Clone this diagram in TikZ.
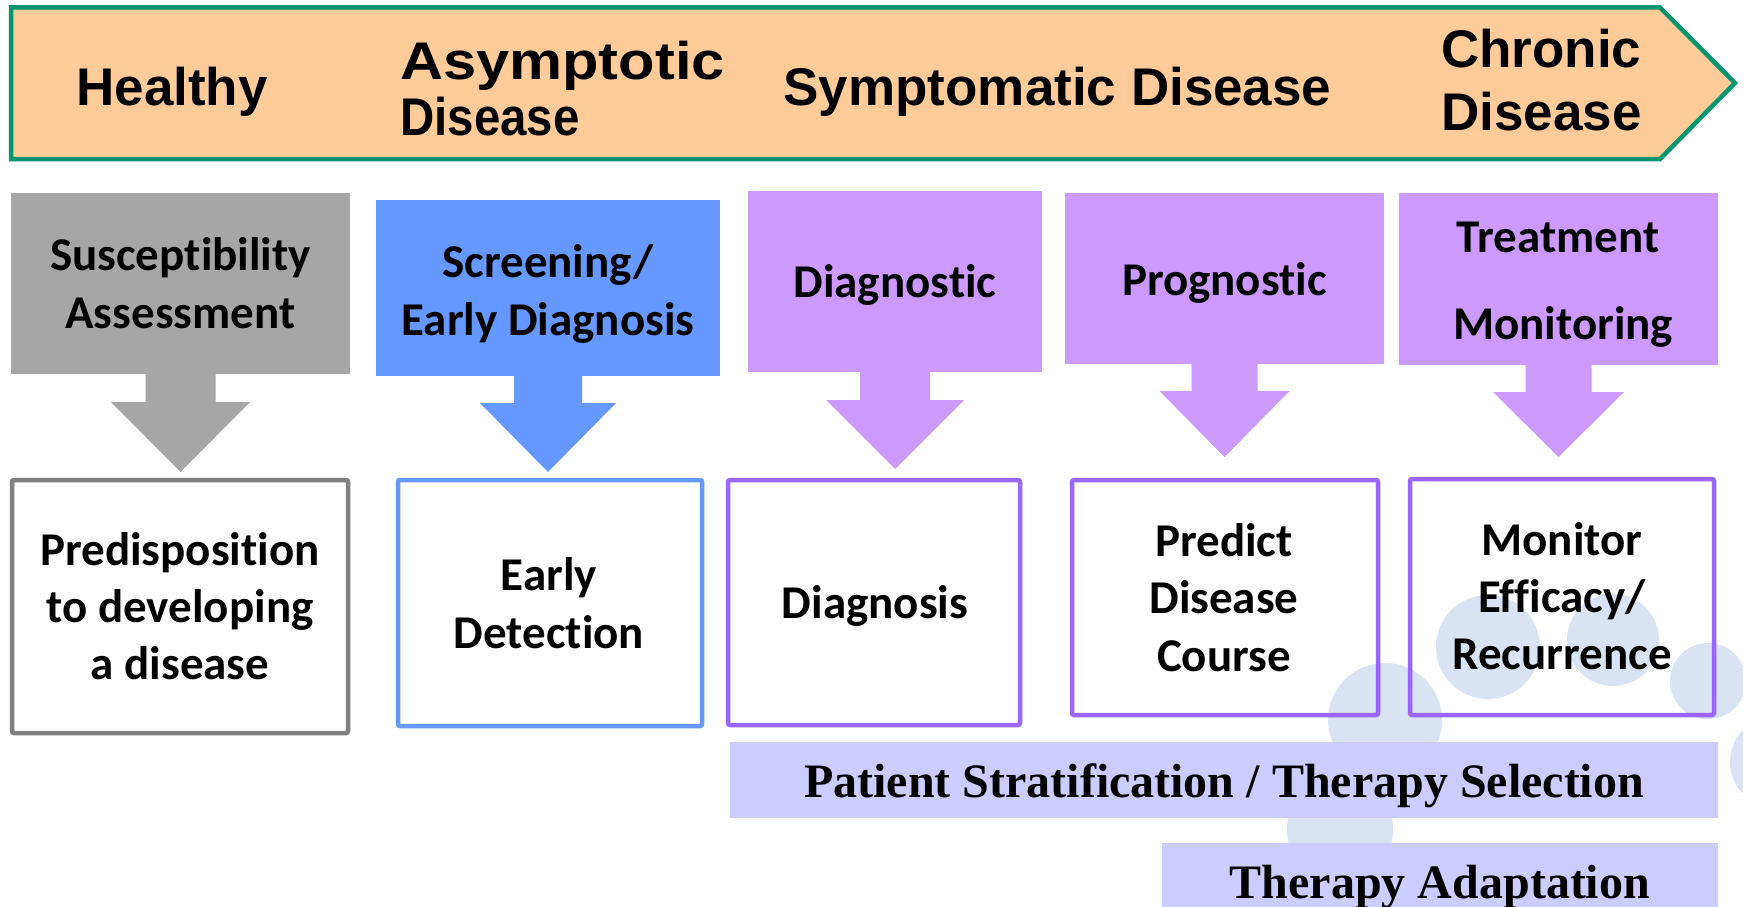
\documentclass[tikz,border=0pt]{standalone}
\usepackage{fontspec}
\usepackage{graphicx}
\usetikzlibrary{calc}
\newfontfamily\arialfont{Liberation Sans}
\newfontfamily\califont{Carlito}[Ligatures=NoCommon]
\newfontfamily\timesfont{Liberation Serif}[Ligatures=NoCommon]
\definecolor{peach}{HTML}{FFCC99}
\definecolor{greenb}{HTML}{06966F}
\definecolor{grayfill}{HTML}{A6A6A6}
\definecolor{bluefill}{HTML}{6699FF}
\definecolor{purplefill}{HTML}{CC99FF}
\definecolor{grayline}{HTML}{808080}
\definecolor{blueline}{HTML}{6699FF}
\definecolor{purpleline}{HTML}{9966FF}
\definecolor{barfill}{HTML}{CCCCFF}
\definecolor{bubblec}{HTML}{DAE3F3}
\newcommand\blockdown[6]{% node, colour, stem length, head half width, head depth, stem half width
  \fill[#2] ($(#1.south)+(-#6,-1)$) -- ($(#1.south)+(-#6,#3)$) -- ($(#1.south)+(-#4,#3)$)
    -- ($(#1.south)+(0,#3+#5)$) -- ($(#1.south)+(#4,#3)$) -- ($(#1.south)+(#6,#3)$)
    -- ($(#1.south)+(#6,-1)$) -- cycle;}
\tikzset{
  topfont/.style={font=\arialfont\bfseries\fontsize{53}{60}\selectfont, inner sep=0pt, anchor=base},
  califnt/.style={font=\califont\bfseries\fontsize{47}{57}\selectfont, inner sep=0pt, anchor=base},
  barfont/.style={font=\timesfont\bfseries\fontsize{48}{55}\selectfont, inner sep=0pt, anchor=base},
  callbox/.style={rectangle, inner sep=0pt, outer sep=0pt, draw=none},
  outbox/.style={rectangle, inner sep=0pt, outer sep=0pt, line width=4.5pt, rounded corners=2pt},
  barbox/.style={rectangle, inner sep=0pt, outer sep=0pt, fill=barfill},
  bubble/.style={fill=bubblec},
}
\begin{document}
\begin{tikzpicture}[x=1pt,y=-1pt]
\useasboundingbox (0,0) rectangle (1743,907);
\fill[white] (0,0) rectangle (1743,907);
% background bubbles
\fill[bubble] (1488,647) circle[radius=52];
\fill[bubble] (1613,640) circle[radius=46];
\fill[bubble] (1708,681) circle[radius=38];
\fill[bubble] (1385,720) circle[radius=57];
\fill[bubble] (1340,830) circle[radius=53];
\fill[bubble] (1776,762) circle[radius=46];
% top stage arrow
\draw[line width=4.5pt, draw=greenb, fill=peach] (11,7.5) -- (1660,7.5) -- (1735,83) -- (1660,159) -- (11,159) -- cycle;
\node[topfont] (healthy) at (172,105) {Healthy};
\node[topfont, anchor=base west] (asym1) at (400,79) {\scalebox{1.125}[1]{Asymptotic}};
\node[topfont, anchor=base west] (asym2) at (400,135) {\scalebox{0.895}[1]{Disease}};
\node[topfont] (sympt) at (1057.5,105) {Symptomatic Disease};
\node[topfont, anchor=base west] (chron1) at (1441,68) {Chronic};
\node[topfont, anchor=base west] (chron2) at (1441,130) {Disease};
% callouts
\node[callbox, fill=grayfill, minimum width=339pt, minimum height=181pt] (c1) at (180.5,283.5) {};
\node[callbox, fill=bluefill, minimum width=344pt, minimum height=176pt] (c2) at (548,288) {};
\node[callbox, fill=purplefill, minimum width=294pt, minimum height=181pt] (c3) at (895,281.5) {};
\node[callbox, fill=purplefill, minimum width=319pt, minimum height=171pt] (c4) at (1224.5,278.5) {};
\node[callbox, fill=purplefill, minimum width=319pt, minimum height=172pt] (c5) at (1558.5,279) {};
\blockdown{c1}{grayfill}{28}{69.5}{70}{35}
\blockdown{c2}{bluefill}{27}{68}{69}{34}
\blockdown{c3}{purplefill}{28}{69}{69}{35}
\blockdown{c4}{purplefill}{27}{65}{66}{33}
\blockdown{c5}{purplefill}{27}{65.5}{65}{33}
\node[califnt] (t1a) at (180.5,270) {Susceptibility};
\node[califnt] (t1b) at (180.5,328) {Assessment};
\node[califnt] (t2a) at (548,277) {Screening/};
\node[califnt] (t2b) at (548,335) {Early Diagnosis};
\node[califnt] (t3a) at (895,297) {Diagnostic};
\node[califnt] (t4a) at (1224.5,295) {Prognostic};
\node[califnt] (t5a) at (1558,252) {Treatment};
\node[califnt] (t5b) at (1563,339) {Monitoring};
% outcome boxes
\node[outbox, draw=grayline, minimum width=336pt, minimum height=253pt] (b1) at (180,606.5) {};
\node[outbox, draw=blueline, minimum width=304pt, minimum height=246pt] (b2) at (550,603) {};
\node[outbox, draw=purpleline, minimum width=292pt, minimum height=245pt] (b3) at (874,602.5) {};
\node[outbox, draw=purpleline, minimum width=306pt, minimum height=235pt] (b4) at (1225,597.5) {};
\node[outbox, draw=purpleline, minimum width=304pt, minimum height=236pt] (b5) at (1562,597) {};
\node[califnt] (o1a) at (180,565) {Predisposition};
\node[califnt] (o1b) at (180,622) {to developing};
\node[califnt] (o1c) at (180,679) {a disease};
\node[califnt] (o2a) at (549,590) {Early};
\node[califnt] (o2b) at (549,648) {Detection};
\node[califnt] (o3a) at (875,618) {Diagnosis};
\node[califnt] (o4a) at (1224,556) {Predict};
\node[califnt] (o4b) at (1224,613) {Disease};
\node[califnt] (o4c) at (1224,671) {Course};
\node[califnt] (o5a) at (1562,555) {Monitor};
\node[califnt] (o5b) at (1562,612) {Efficacy/};
\node[califnt] (o5c) at (1562,669) {Recurrence};
% bottom bars
\node[barbox, minimum width=988pt, minimum height=76pt] (p1) at (1224,780) {};
\node[barbox, minimum width=556pt, minimum height=76pt] (p2) at (1440,881) {};
\node[barfont] (p1t) at (1224,797) {Patient Stratification / Therapy Selection};
\node[barfont] (p2t) at (1440,898) {Therapy Adaptation};
\end{tikzpicture}
\end{document}
